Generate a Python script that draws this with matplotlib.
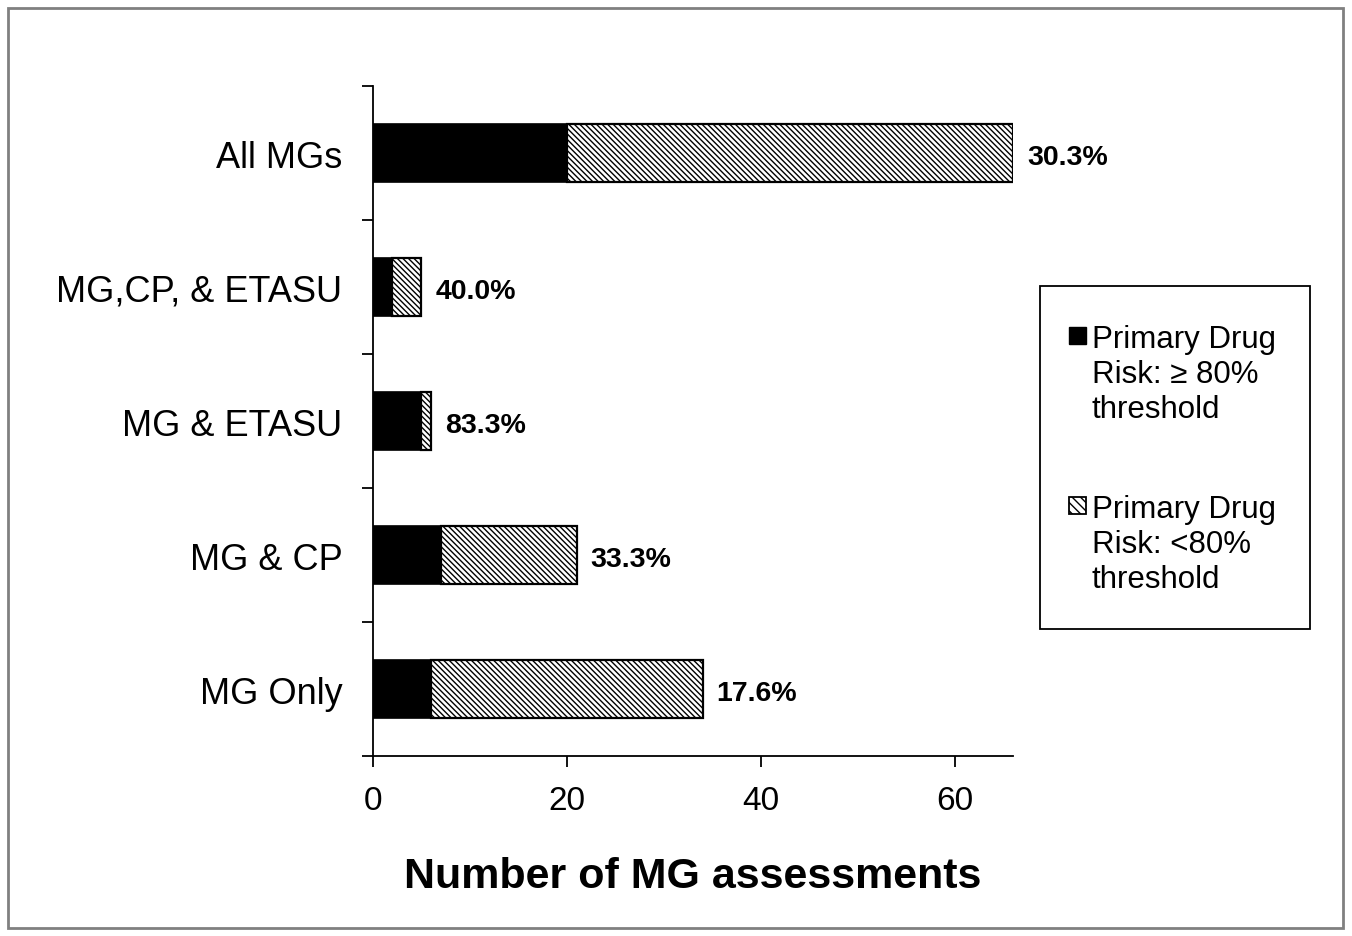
import matplotlib
matplotlib.use("Agg")
import matplotlib.pyplot as plt
from matplotlib.patches import Rectangle
import numpy as np

plt.rcParams['font.family'] = ['Liberation Sans', 'DejaVu Sans']
plt.rcParams['hatch.linewidth'] = 1.0

categories = ["MG Only", "MG & CP", "MG & ETASU", "MG,CP, & ETASU", "All MGs"]
above_80 = [6, 7, 5, 2, 20]
below_80 = [28, 14, 1, 3, 46]
pct_labels = ["17.6%", "33.3%", "83.3%", "40.0%", "30.3%"]
x_ticks = [0, 20, 40, 60]
legend_labels = ["Primary Drug\nRisk: \u2265 80%\nthreshold", "Primary Drug\nRisk: <80%\nthreshold"]

HATCH = '\\' * 6

W, H = 1352, 937
fig = plt.figure(figsize=(W / 100, H / 100), dpi=100)
ax = fig.add_axes([373 / W, 1 - 757 / H, (1013 - 373) / W, (757 - 87) / H])

y = np.arange(len(categories))
bh = 0.43
ax.barh(y, above_80, height=bh, color='black', edgecolor='black', linewidth=1.2, zorder=3)
ax.barh(y, below_80, left=above_80, height=bh, color='white', edgecolor='black',
        hatch=HATCH, linewidth=1.6, zorder=3)

for yi, a, b, lab in zip(y, above_80, below_80, pct_labels):
    ax.annotate(lab, (a + b, yi), xytext=(10, -3), textcoords='offset points',
                va='center', ha='left', fontsize=20.5, fontweight='bold')

ax.set_xlim(0, 66)
ax.set_ylim(-0.5, len(categories) - 0.5)
ax.set_xticks(x_ticks)
ax.set_xticklabels([str(v) for v in x_ticks], fontsize=24)
ax.tick_params(axis='x', direction='out', length=8, width=1.3, pad=13)

ax.set_yticks(np.arange(-0.5, len(categories), 1.0))
ax.set_yticklabels([])
ax.tick_params(axis='y', which='major', direction='out', length=8, width=1.3)
ax.set_yticks(y, minor=True)
ax.set_yticklabels(categories, minor=True, fontsize=26)
ax.tick_params(axis='y', which='minor', length=0, pad=22)

for s in ['top', 'right']:
    ax.spines[s].set_visible(False)
for s in ['left', 'bottom']:
    ax.spines[s].set_linewidth(1.3)

ax.set_xlabel("Number of MG assessments", fontsize=31, fontweight='bold', labelpad=29)

# legend drawn in figure pixel coordinates (y measured from top)
def fx(px):
    return px / W

def fy(py):
    return 1 - py / H

fig.patches.append(Rectangle((fx(1040), fy(630)), fx(1310) - fx(1040), fy(287) - fy(630),
                             transform=fig.transFigure, fill=False,
                             edgecolor='black', linewidth=1.3))
sq = 17
for i, (lab, top) in enumerate(zip(legend_labels, [328, 498])):
    if i == 0:
        fig.patches.append(Rectangle((fx(1069), fy(top + sq)), sq / W, sq / H,
                                     transform=fig.transFigure, facecolor='black',
                                     edgecolor='black', linewidth=1.0))
    else:
        fig.patches.append(Rectangle((fx(1069), fy(top + sq)), sq / W, sq / H,
                                     transform=fig.transFigure, facecolor='white',
                                     edgecolor='black', hatch='\\' * 4, linewidth=1.3))
    fig.text(fx(1092), fy(top - 3), lab, fontsize=22.5, va='top', ha='left',
             linespacing=1.22)

fig.patches.append(Rectangle((8 / W, 8 / H), (1343 - 8) / W, (928 - 8) / H,
                             transform=fig.transFigure, fill=False,
                             edgecolor='#808080', linewidth=2))

fig.savefig("out.png", dpi=100)
